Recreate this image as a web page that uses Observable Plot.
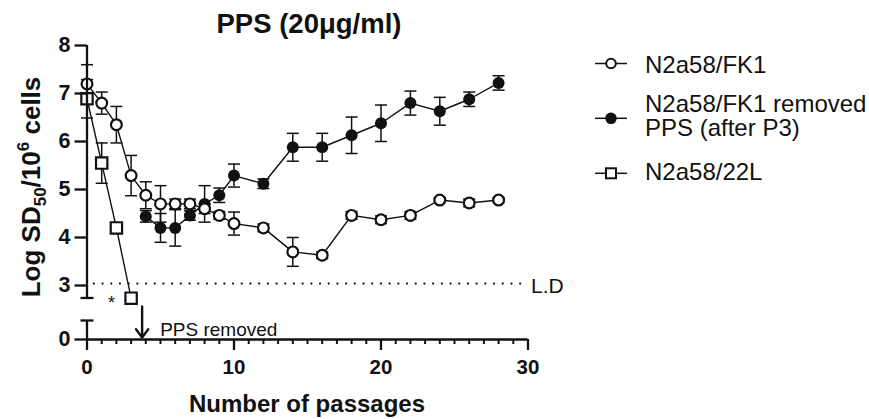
<!DOCTYPE html>
<html>
<head>
<meta charset="utf-8">
<script src="https://cdn.jsdelivr.net/npm/d3@7"></script>
<script src="https://cdn.jsdelivr.net/npm/@observablehq/plot@0.6"></script>
<style>
  html, body { margin: 0; padding: 0; background: #fff; }
  #chart { width: 869px; height: 419px; }
</style>
</head>
<body>
<div id="chart"></div>
<script>
// ---- data ----
const passagesFK1 = [0, 1, 2, 3, 4, 5, 6, 7, 8, 9, 10, 12, 14, 16, 18, 20, 22, 24, 26, 28];
const fk1Mean = [7.20, 6.80, 6.35, 5.29, 4.88, 4.70, 4.70, 4.70, 4.60, 4.46, 4.29, 4.20, 3.70, 3.63, 4.46, 4.37, 4.46, 4.78, 4.72, 4.78];
const fk1Err  = [0.40, 0.23, 0.38, 0.42, 0.28, 0.38, 0.10, 0.10, 0.10, 0.08, 0.24, 0.08, 0.30, 0.07, 0.08, 0.08, 0.08, 0.05, 0.08, 0.05];

const passagesRem = [4, 5, 6, 7, 8, 9, 10, 12, 14, 16, 18, 20, 22, 24, 26, 28];
const remMean = [4.44, 4.20, 4.20, 4.46, 4.70, 4.88, 5.29, 5.12, 5.88, 5.88, 6.13, 6.38, 6.80, 6.63, 6.88, 7.22];
const remErr  = [0.12, 0.30, 0.38, 0.10, 0.38, 0.15, 0.24, 0.10, 0.29, 0.29, 0.38, 0.38, 0.25, 0.29, 0.15, 0.15];

const passages22L = [0, 1, 2, 3];
const l22Mean = [6.89, 5.55, 4.20, 2.72];
const l22Err  = [0.40, 0.42, 0, 0];

const seriesNames = ["N2a58/FK1", "N2a58/FK1 removed PPS (after P3)", "N2a58/22L"];
const xTicksMajor = [0, 10, 20, 30];
const xTicksMinor = d3.range(0, 31);
const yTicks = [0, 3, 4, 5, 6, 7, 8];
// broken y axis: lower piece 0..0.4, upper piece 2.74..8
const yAxisPieces = [{lo: 0, hi: 0.4}, {lo: 2.74, hi: 8}];
const detectionLimit = 3.04;
const ppsRemovedAt = {x: 3.75, yFrom: 1.85, yTo: 0.04};

// ---- tables ----
const fk1 = passagesFK1.map((p, i) => ({p, m: fk1Mean[i], e: fk1Err[i]}));
const rem = passagesRem.map((p, i) => ({p, m: remMean[i], e: remErr[i]}));
const l22 = passages22L.map((p, i) => ({p, m: l22Mean[i], e: l22Err[i]}));

// axis break: compress the gap between the two axis pieces
const yBreak = d3.scaleLinear().domain([0, 0.4, 2.74, 8]).range([0, 0.396, 0.865, 6.125]);

const cap = {draw(ctx) { ctx.moveTo(-6, 0); ctx.lineTo(6, 0); }};
const axisCap = {draw(ctx) { ctx.moveTo(-6.5, 0); ctx.lineTo(6.5, 0); }};

function errMarks(data) {
  const withErr = data.filter(d => d.e > 0);
  return [
    Plot.ruleX(withErr, {x: "p", y1: d => d.m - d.e, y2: d => d.m + d.e, stroke: "#111", strokeWidth: 1.5}),
    Plot.dot(withErr, {x: "p", y: d => d.m + d.e, symbol: cap, r: 3, stroke: "#111", fill: "none", strokeWidth: 1.5}),
    Plot.dot(withErr, {x: "p", y: d => d.m - d.e, symbol: cap, r: 3, stroke: "#111", fill: "none", strokeWidth: 1.5})
  ];
}

const font = "'Liberation Sans', Arial, Helvetica, sans-serif";

const plot = Plot.plot({
  width: 869,
  height: 419,
  marginLeft: 86.5,
  marginRight: 341.5,
  marginTop: 45,
  marginBottom: 80,
  x: {domain: [0, 30], range: [86.5, 527.5]},
  y: {transform: yBreak, domain: [0, 6.125], range: [339, 45]},
  style: {fontFamily: font, color: "black", background: "white", overflow: "visible"},
  marks: [
    // detection limit
    Plot.ruleY([detectionLimit], {x1: 0.5, x2: 29.5, stroke: "#111", strokeWidth: 2.3, strokeDasharray: "0 8.7", strokeLinecap: "round"}),
    Plot.text(["L.D"], {x: 30, y: detectionLimit, textAnchor: "start", dx: 3, dy: 3, fontSize: 21, fill: "#111"}),
    // lines
    Plot.line(l22, {x: "p", y: "m", stroke: "#111", strokeWidth: 1.4}),
    Plot.line(fk1, {x: "p", y: "m", stroke: "#111", strokeWidth: 1.4}),
    Plot.line(rem, {x: "p", y: "m", stroke: "#111", strokeWidth: 1.4}),
    // error bars
    ...errMarks(l22),
    ...errMarks(fk1),
    ...errMarks(rem),
    // markers
    Plot.dot(l22, {x: "p", y: "m", symbol: "square", r: 6.4, fill: "white", stroke: "#111", strokeWidth: 2.2}),
    Plot.dot(rem, {x: "p", y: "m", symbol: "circle", r: 6, fill: "#111", stroke: "none"}),
    Plot.dot(fk1, {x: "p", y: "m", symbol: "circle", r: 5.4, fill: "white", stroke: "#111", strokeWidth: 2.2}),
    // significance star
    Plot.text([l22[l22.length - 1]], {x: "p", y: "m", text: () => "*", dx: -19.6, dy: 5, fontSize: 18, fill: "#111"}),
    // PPS removed arrow
    Plot.arrow([ppsRemovedAt], {x1: "x", x2: "x", y1: "yFrom", y2: "yTo", stroke: "#111", strokeWidth: 2.4, headLength: 15, headAngle: 72}),
    Plot.text([ppsRemovedAt], {x: "x", y: 0, text: () => "PPS removed", textAnchor: "start", dx: 18, dy: -10, fontSize: 19, fill: "#111"}),
    // axes
    Plot.ruleX(yAxisPieces, {x: 0, y1: "lo", y2: "hi", stroke: "#111", strokeWidth: 2.3}),
    Plot.dot(yAxisPieces.map(d => ({v: d.lo === 0 ? d.hi : d.lo})), {x: 0, y: "v", symbol: axisCap, r: 3, stroke: "#111", fill: "none", strokeWidth: 2.3}),
    Plot.ruleY([0], {x1: 0, x2: 30, stroke: "#111", strokeWidth: 2.3}),
    // axis ticks are given in the (already broken) scale space, labelled with their data values
    Plot.axisY({ticks: yTicks.map(yBreak), tickFormat: u => String(Math.round(yBreak.invert(u))), tickSize: 12, tickPadding: 4.5, fontSize: 21.5, fontWeight: "bold", strokeWidth: 2.3, label: null, fill: "#111", stroke: "#111"}),
    Plot.axisX({ticks: xTicksMinor, tickSize: 5, tickFormat: () => "", strokeWidth: 2, label: null, stroke: "#111"}),
    Plot.axisX({ticks: xTicksMajor, tickSize: 11, tickPadding: 9, fontSize: 20.5, fontWeight: "bold", strokeWidth: 2.3, label: null, fill: "#111", stroke: "#111"})
  ]
});

document.getElementById("chart").appendChild(plot);

// ---- annotations: title, axis titles, legend ----
const svg = d3.select(plot);

svg.append("text")
  .attr("x", 309).attr("y", 33)
  .attr("text-anchor", "middle")
  .attr("font-family", font).attr("font-weight", "bold").attr("font-size", 27.5)
  .attr("fill", "#111")
  .text("PPS (20μg/ml)");

svg.append("text")
  .attr("x", 307).attr("y", 411.5)
  .attr("text-anchor", "middle")
  .attr("font-family", font).attr("font-weight", "bold").attr("font-size", 24)
  .attr("fill", "#111")
  .text("Number of passages");

const yl = svg.append("text")
  .attr("transform", "translate(40,187) rotate(-90)")
  .attr("text-anchor", "middle")
  .attr("font-family", font).attr("font-weight", "bold").attr("font-size", 26)
  .attr("fill", "#111");
yl.append("tspan").text("Log SD");
yl.append("tspan").attr("font-size", 17).attr("dy", 6).text("50");
yl.append("tspan").attr("dy", -6).text("/10");
yl.append("tspan").attr("font-size", 17).attr("dy", -11).text("6");
yl.append("tspan").attr("dy", 11).text(" cells");

// legend
const lg = svg.append("g").attr("font-family", font).attr("font-size", 24).attr("fill", "#111").attr("text-anchor", "start");
const legendRows = [
  {sym: "open", y: 63.5, lines: [seriesNames[0]], base: 72.5},
  {sym: "filled", y: 118.3, lines: ["N2a58/FK1 removed", "PPS (after P3)"], base: 111.5},
  {sym: "square", y: 173.3, lines: [seriesNames[2]], base: 180}
];
legendRows.forEach(r => {
  lg.append("line").attr("x1", 595).attr("x2", 627).attr("y1", r.y).attr("y2", r.y)
    .attr("stroke", "#111").attr("stroke-width", 1.5);
  if (r.sym === "open") {
    lg.append("circle").attr("cx", 611).attr("cy", r.y).attr("r", 4.8)
      .attr("fill", "white").attr("stroke", "#111").attr("stroke-width", 2);
  } else if (r.sym === "filled") {
    lg.append("circle").attr("cx", 611).attr("cy", r.y).attr("r", 5.8).attr("fill", "#111");
  } else {
    lg.append("rect").attr("x", 611 - 5).attr("y", r.y - 5).attr("width", 10).attr("height", 10)
      .attr("fill", "white").attr("stroke", "#111").attr("stroke-width", 2);
  }
  r.lines.forEach((t, i) => {
    lg.append("text").attr("x", 645).attr("y", r.base + i * 24.7).attr("text-anchor", "start").text(t);
  });
});
</script>
</body>
</html>
